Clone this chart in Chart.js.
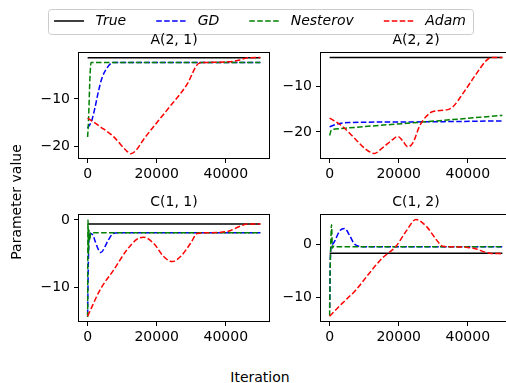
<!DOCTYPE html>
<html><head><meta charset="utf-8">
<script src="https://cdn.jsdelivr.net/npm/chart.js@4/dist/chart.umd.min.js"></script>
<style>
html,body{margin:0;padding:0;background:#fff;}
#fig{position:relative;width:506px;height:383px;overflow:hidden;background:#fff;font-family:'DejaVu Sans',sans-serif;color:#000;}
canvas{position:absolute;}
.lab{position:absolute;font-size:14px;line-height:16px;height:16px;text-align:center;white-space:nowrap;}
</style></head>
<body>
<div id="fig">
  <canvas id="leg" width="520" height="130" style="left:0;top:-16px"></canvas>
  <canvas id="p1" width="282" height="156" style="left:33px;top:32px"></canvas>
  <canvas id="p2" width="282" height="156" style="left:275px;top:32px"></canvas>
  <canvas id="p3" width="282" height="157" style="left:33px;top:194px"></canvas>
  <canvas id="p4" width="282" height="157" style="left:275px;top:194px"></canvas>
  <div class="lab" style="left:160px;top:369px;width:200px">Iteration</div>
  <div class="lab" style="left:-84px;top:194px;width:200px;transform:rotate(-90deg)">Parameter value</div>
</div>
<script>
// ---------------- data ----------------
const SERIES = ['True', 'GD', 'Nesterov', 'Adam'];
const X_TICKS = [0, 20000, 40000];
const X_RANGE = [-2500, 52500];
const ITER_END = 50000;

// A(2, 1)
const A21_TRUE = -1.35;
const A21_GD = [[0,-16.1],[1200,-14.5],[2100,-11.9],[3100,-8.5],[4100,-5.7],[5500,-3.6],[7400,-2.35],[50000,-2.35]];
const A21_NES = [[0,-18],[250,-14.5],[700,-5],[1000,-2.35],[50000,-2.35]];
const A21_ADAM = [[0,-14],[3600,-15.8],[7500,-17.9],[11400,-21],[12500,-21.5],[14000,-20.8],[16200,-18.5],[23000,-12.3],[28800,-6.9],[32000,-2.6],[33500,-2.35],[37000,-2.3],[40000,-2.2],[42000,-2.1],[44000,-1.8],[46500,-1.35],[50000,-1.3]];
const A21_YTICKS = [-20, -10];
const A21_YRANGE = [-22.4, -0.3];

// A(2, 2)
const A22_TRUE = -3.8;
const A22_GD = [[0,-18.9],[1700,-18.4],[5600,-17.95],[20000,-17.85],[35000,-17.75],[50000,-17.6]];
const A22_NES = [[0,-20.8],[500,-19.6],[1500,-19.4],[7600,-19.0],[27000,-17.85],[50000,-16.4]];
const A22_ADAM = [[0,-17],[3700,-18.8],[7600,-21.7],[10500,-23.8],[12900,-24.7],[15300,-23.5],[18200,-21.7],[19700,-21.0],[21200,-22.0],[22600,-23.25],[24100,-22.4],[26000,-18.8],[28000,-16.6],[29900,-15.55],[33800,-15.2],[35700,-14.5],[38600,-11.6],[42500,-7.3],[45400,-4.4],[46900,-3.75],[50000,-3.8]];
const A22_YTICKS = [-20, -10];
const A22_YRANGE = [-25.7, -2.75];

// C(1, 1)
const C11_TRUE = -0.6;
const C11_GD = [[0,-14],[150,-8],[400,-2.6],[800,-2.0],[1600,-2.3],[2200,-3.2],[3800,-4.8],[6000,-2.95],[7400,-2.0],[9000,-1.9],[50000,-1.9]];
const C11_NES = [[0,-14.3],[100,0],[250,-5],[400,-1.5],[600,-3],[900,-1.9],[50000,-1.9]];
const C11_ADAM = [[0,-14.2],[3600,-10.3],[7500,-7.4],[11400,-4.4],[14300,-2.85],[16200,-2.56],[19100,-3.45],[22000,-5.4],[24500,-6.15],[26900,-5.4],[29800,-3.45],[31700,-2.0],[34000,-1.9],[40500,-1.7],[44300,-0.9],[46300,-0.6],[50000,-0.6]];
const C11_YTICKS = [-10, 0];
const C11_YRANGE = [-14.9, 0.75];

// C(1, 2)
const C12_TRUE = -1.6;
const C12_GD = [[0,-12],[200,-3],[400,-0.6],[1000,0.2],[1700,1.0],[2800,2.55],[4300,3.1],[5700,1.9],[7000,0.3],[8400,-0.3],[10000,-0.4],[50000,-0.4]];
const C12_NES = [[0,-13.5],[150,-5],[300,-0.5],[550,3.8],[800,-0.6],[1100,-0.3],[2000,-0.4],[50000,-0.4]];
const C12_ADAM = [[0,-13.6],[3700,-11.1],[7600,-8.6],[11500,-5.4],[15300,-2.5],[19200,-0.3],[22100,2.55],[25000,4.8],[28000,3.5],[30900,0.96],[32800,-0.3],[36000,-0.4],[40000,-0.5],[42500,-0.8],[44500,-1.3],[46400,-1.6],[50000,-1.7]];
const C12_YTICKS = [-10, 0];
const C12_YRANGE = [-14.5, 5.7];

// ---------------- styles ----------------
const FONT = "'DejaVu Sans', sans-serif";
Chart.defaults.font.family = FONT;
Chart.defaults.font.size = 14;
Chart.defaults.color = '#000';
Chart.defaults.animation = false;

const DASH = [5.55, 2.4];
const STYLE = {
  True:     {color: '#000000', dash: [], order: 4},
  GD:       {color: '#0000ff', dash: DASH, order: 3},
  Nesterov: {color: '#008000', dash: DASH, order: 2},
  Adam:     {color: '#ff0000', dash: DASH, order: 1}
};
const AXIS_W = 46, XAXIS_H = 30;

const fmt = v => (v < 0 ? '\u2212' + Math.abs(v) : String(v));

const framePlugin = {
  id: 'frame',
  afterDatasetsDraw(chart) {
    const a = chart.chartArea, c = chart.ctx;
    c.save();
    c.strokeStyle = '#000'; c.lineWidth = 1;
    const l = Math.round(a.left) - 0.5, t = Math.round(a.top) - 0.5;
    const r = Math.round(a.right) + 0.5, b = Math.round(a.bottom) + 0.5;
    c.strokeRect(l, t, r - l, b - t);
    c.restore();
  }
};

function dataset(name, data, smooth) {
  const s = STYLE[name];
  return {
    label: name, data: data,
    borderColor: s.color, backgroundColor: s.color,
    borderDash: s.dash, borderWidth: 1.5,
    pointRadius: 0, fill: false, order: s.order,
    cubicInterpolationMode: smooth ? 'monotone' : 'default', tension: 0
  };
}

function panel(id, title, trueVal, gd, nes, adam, yRange, yTicks) {
  new Chart(document.getElementById(id), {
    type: 'line',
    data: {datasets: [
      dataset('True', [[0, trueVal], [ITER_END, trueVal]], false),
      dataset('GD', gd, true),
      dataset('Nesterov', nes, true),
      dataset('Adam', adam, true)
    ]},
    options: {
      responsive: false, devicePixelRatio: 1, animation: false,
      layout: {padding: 0},
      plugins: {
        legend: {display: false}, tooltip: {enabled: false},
        title: {display: true, text: title, color: '#000',
                font: {family: FONT, size: 14, weight: 'normal'},
                padding: {top: 0, bottom: 4}}
      },
      scales: {
        x: {
          type: 'linear', min: X_RANGE[0], max: X_RANGE[1],
          afterBuildTicks: s => { s.ticks = X_TICKS.map(v => ({value: v})); },
          afterFit: s => { s.height = XAXIS_H; },
          grid: {display: true, drawOnChartArea: false, drawTicks: true, tickLength: 5, color: '#000', lineWidth: 1},
          border: {display: false},
          ticks: {color: '#000', padding: 3, maxRotation: 0, font: {family: FONT, size: 14}, callback: v => String(v)}
        },
        y: {
          type: 'linear', position: 'left', min: yRange[0], max: yRange[1],
          afterBuildTicks: s => { s.ticks = yTicks.map(v => ({value: v})); },
          afterFit: s => { s.width = AXIS_W; },
          grid: {display: true, drawOnChartArea: false, drawTicks: true, tickLength: 5, color: '#000', lineWidth: 1},
          border: {display: false},
          ticks: {color: '#000', padding: 4, font: {family: FONT, size: 14}, callback: v => fmt(v)}
        },
        yr: {
          type: 'linear', position: 'right', display: true,
          afterFit: s => { s.width = AXIS_W; },
          grid: {display: false}, border: {display: false}, ticks: {display: false}
        }
      }
    },
    plugins: [framePlugin]
  });
}

panel('p1', 'A(2, 1)', A21_TRUE, A21_GD, A21_NES, A21_ADAM, A21_YRANGE, A21_YTICKS);
panel('p2', 'A(2, 2)', A22_TRUE, A22_GD, A22_NES, A22_ADAM, A22_YRANGE, A22_YTICKS);
panel('p3', 'C(1, 1)', C11_TRUE, C11_GD, C11_NES, C11_ADAM, C11_YRANGE, C11_YTICKS);
panel('p4', 'C(1, 2)', C12_TRUE, C12_GD, C12_NES, C12_ADAM, C12_YRANGE, C12_YTICKS);

// ---------------- shared legend ----------------
const legendFrame = {
  id: 'legendFrame',
  afterDraw(chart) {
    const hb = chart.legend.legendHitBoxes;
    if (!hb || !hb.length) return;
    const c = chart.ctx;
    const first = hb[0], last = hb[hb.length - 1];
    const cy = first.top + first.height / 2;
    const x0 = Math.round(first.left - 6) + 0.5, x1 = Math.round(last.left + last.width + 7) + 0.5;
    const y0 = Math.round(cy - 12.5) + 0.5, y1 = Math.round(cy + 12.5) + 0.5;
    c.save();
    c.strokeStyle = '#cccccc'; c.lineWidth = 1;
    c.beginPath();
    if (c.roundRect) c.roundRect(x0, y0, x1 - x0, y1 - y0, 3); else c.rect(x0, y0, x1 - x0, y1 - y0);
    c.stroke();
    c.restore();
  }
};

new Chart(document.getElementById('leg'), {
  type: 'line',
  data: {datasets: SERIES.map(n => dataset(n, [], false))},
  options: {
    responsive: false, devicePixelRatio: 1, animation: false,
    layout: {padding: 0},
    scales: {x: {display: false, type: 'linear'}, y: {display: false}},
    plugins: {
      tooltip: {enabled: false},
      legend: {
        display: true, position: 'top', align: 'center',
        labels: {
          usePointStyle: true, pointStyle: 'line', pointStyleWidth: 30, boxWidth: 30,
          padding: 30, color: '#000',
          font: {family: FONT, size: 14, style: 'italic'},
          generateLabels: chart => chart.data.datasets.map((ds, i) => ({
            text: ' ' + ds.label,
            strokeStyle: ds.borderColor, fillStyle: ds.borderColor,
            lineWidth: ds.borderWidth, lineDash: ds.borderDash, lineCap: 'butt',
            pointStyle: 'line', hidden: false, datasetIndex: i, fontColor: '#000'
          }))
        }
      }
    }
  },
  plugins: [legendFrame]
});
</script>
</body></html>
